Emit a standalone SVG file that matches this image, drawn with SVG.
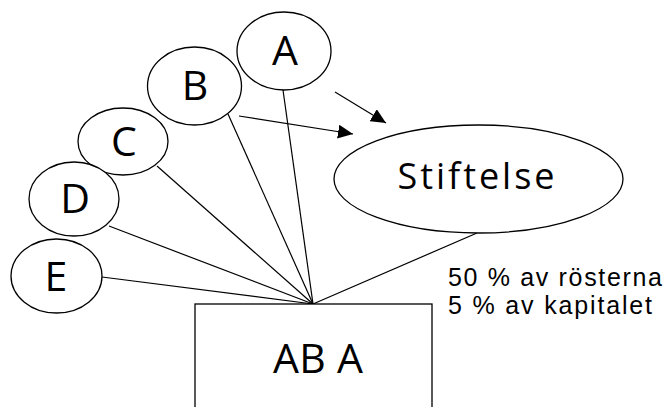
<svg xmlns="http://www.w3.org/2000/svg" width="666" height="407" viewBox="0 0 666 407">
<defs>
<style>
.shape{fill:#fff;stroke:#000;stroke-width:1.3}
.conn{fill:none;stroke:#000;stroke-width:1.2}
.lbl{font-family:"Open Sans","Liberation Sans",Arial,sans-serif;fill:#000;text-anchor:middle}
.note{font-family:"Liberation Sans",Arial,sans-serif;fill:#000;font-size:25px}
</style>
<marker id="arr" markerUnits="userSpaceOnUse" markerWidth="16" markerHeight="14" refX="15" refY="7" orient="auto">
<path d="M0,0 L15,7 L0,14 Z" fill="#000"/>
</marker>
</defs>
<rect width="666" height="407" fill="#fff"/>
<g id="connectors">
<line class="conn" x1="283" y1="90" x2="313" y2="304"/>
<line class="conn" x1="228" y1="114" x2="313" y2="304"/>
<line class="conn" x1="157" y1="166" x2="313" y2="304"/>
<line class="conn" x1="109" y1="226" x2="313" y2="304"/>
<line class="conn" x1="102" y1="277" x2="313" y2="304"/>
<line class="conn" x1="477" y1="233" x2="313" y2="304"/>
<line class="conn" x1="335" y1="92" x2="386" y2="123" marker-end="url(#arr)"/>
<line class="conn" x1="239" y1="116" x2="353" y2="134" marker-end="url(#arr)"/>
</g>
<g id="node-A">
<ellipse class="shape" cx="284" cy="51" rx="47" ry="39"/>
<text class="lbl" x="285" y="65" font-size="41">A</text>
</g>
<g id="node-B">
<ellipse class="shape" cx="194.5" cy="86" rx="47" ry="39"/>
<text class="lbl" x="195" y="100" font-size="41">B</text>
</g>
<g id="node-C">
<ellipse class="shape" cx="123" cy="141.5" rx="45" ry="33.5"/>
<text class="lbl" x="124" y="156" font-size="41">C</text>
</g>
<g id="node-D">
<ellipse class="shape" cx="74" cy="199" rx="45" ry="37"/>
<text class="lbl" x="75" y="213" font-size="41">D</text>
</g>
<g id="node-E">
<ellipse class="shape" cx="56.5" cy="276" rx="45.5" ry="37"/>
<text class="lbl" x="56" y="291" font-size="41">E</text>
</g>
<g id="node-Stiftelse">
<ellipse class="shape" cx="478.5" cy="179" rx="144.5" ry="54"/>
<text class="lbl" x="476" y="189" font-size="36" textLength="157" lengthAdjust="spacing">Stiftelse</text>
</g>
<g id="node-ABA">
<rect class="shape" x="195" y="304" width="237" height="110"/>
<text class="lbl" x="318" y="373" font-size="41" textLength="90" lengthAdjust="spacing">AB A</text>
</g>
<g id="note">
<text class="note" x="448" y="285.5" textLength="214" lengthAdjust="spacing">50 % av rösterna</text>
<text class="note" x="448" y="314" textLength="204" lengthAdjust="spacing">5 % av kapitalet</text>
</g>
</svg>
